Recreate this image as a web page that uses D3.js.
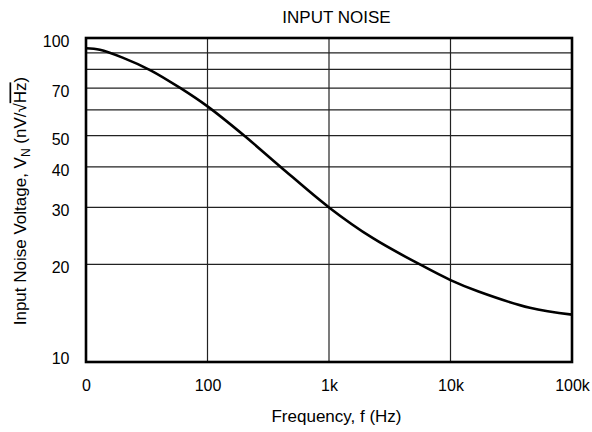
<!DOCTYPE html>
<html>
<head>
<meta charset="utf-8">
<script src="https://d3js.org/d3.v7.min.js"></script>
<style>
  body { margin: 0; background: #fff; }
  text { font-family: "Liberation Sans", Arial, sans-serif; fill: #000; }
</style>
</head>
<body>
<script>
// curve: frequency (Hz) and noise (nV/rtHz)
var freq = [10, 13, 20, 34, 60, 100, 200, 400, 1000, 2300, 5600, 10000, 17000, 45000, 100000];
var noise = [93, 92, 87, 79.5, 70, 61.5, 50, 40, 30, 24.1, 20, 17.9, 16.5, 14.7, 14];

var xTicks = [10, 100, 1000, 10000, 100000];
var xTickLabels = ["0", "100", "1k", "10k", "100k"];
var yGrid = [20, 30, 40, 50, 60, 70, 80, 90];
var yTicks = [10, 20, 30, 40, 50, 70, 100];

var margin = {top: 38, right: 20, bottom: 70, left: 86},
    width = 592 - margin.left - margin.right,
    height = 432 - margin.top - margin.bottom;

var svg = d3.select("body")
  .append("svg")
    .attr("width", 592)
    .attr("height", 432);

var g = svg.append("g")
    .attr("transform", "translate(" + margin.left + "," + margin.top + ")");

var x = d3.scaleLog().domain([10, 100000]).range([0, width]);
var y = d3.scaleLog().domain([10, 100]).range([height, 0]);

// grid lines
g.selectAll(".hgrid")
  .data(yGrid)
  .enter()
  .append("line")
    .attr("x1", 0)
    .attr("x2", width)
    .attr("y1", function(d) { return y(d); })
    .attr("y2", function(d) { return y(d); })
    .attr("stroke", "#222")
    .attr("stroke-width", 1.2);

g.selectAll(".vgrid")
  .data(xTicks.slice(1, -1))
  .enter()
  .append("line")
    .attr("y1", 0)
    .attr("y2", height)
    .attr("x1", function(d) { return x(d); })
    .attr("x2", function(d) { return x(d); })
    .attr("stroke", "#222")
    .attr("stroke-width", 1.2);

// axes (labels only, no tick marks)
var xAxis = g.append("g")
    .attr("transform", "translate(0," + height + ")")
    .call(d3.axisBottom(x).tickValues(xTicks).tickSize(0).tickPadding(18)
      .tickFormat(function(d, i) { return xTickLabels[i]; }));
xAxis.select(".domain").remove();
xAxis.selectAll("text").style("font-size", "16px").style("font-family", "Liberation Sans, Arial, sans-serif");

var yAxis = g.append("g")
    .call(d3.axisLeft(y).tickValues(yTicks).tickSize(0).tickPadding(16.5)
      .tickFormat(d3.format("d")));
yAxis.select(".domain").remove();
yAxis.selectAll("text")
    .style("font-size", "16px")
    .style("font-family", "Liberation Sans, Arial, sans-serif")
    .attr("dy", function(d) { return d === 10 ? "1.5px" : "8.5px"; });

// the curve
var line = d3.line()
    .x(function(d, i) { return x(freq[i]); })
    .y(function(d) { return y(d); })
    .curve(d3.curveCatmullRom.alpha(0.5));

g.append("path")
    .datum(noise)
    .attr("fill", "none")
    .attr("stroke", "#000")
    .attr("stroke-width", 2.6)
    .attr("d", line);

// plot frame
g.append("rect")
    .attr("width", width)
    .attr("height", height)
    .attr("fill", "none")
    .attr("stroke", "#000")
    .attr("stroke-width", 2.6);

// title
svg.append("text")
    .attr("x", 336.5)
    .attr("y", 22.5)
    .attr("text-anchor", "middle")
    .style("font-size", "17px")
    .text("INPUT NOISE");

// x label
svg.append("text")
    .attr("x", 336.5)
    .attr("y", 422)
    .attr("text-anchor", "middle")
    .style("font-size", "17px")
    .text("Frequency, f (Hz)");

// y label
var yl = svg.append("text")
    .attr("text-anchor", "middle")
    .attr("transform", "translate(25.5,201) rotate(-90)")
    .style("font-size", "17px");
yl.append("tspan").text("Input Noise Voltage, V");
yl.append("tspan").attr("dy", 4).style("font-size", "12px").text("N");
yl.append("tspan").attr("dy", -4).text(" (nV/\u221A");
yl.append("tspan").style("text-decoration", "overline").text("Hz");
yl.append("tspan").text(")");
</script>
</body>
</html>
